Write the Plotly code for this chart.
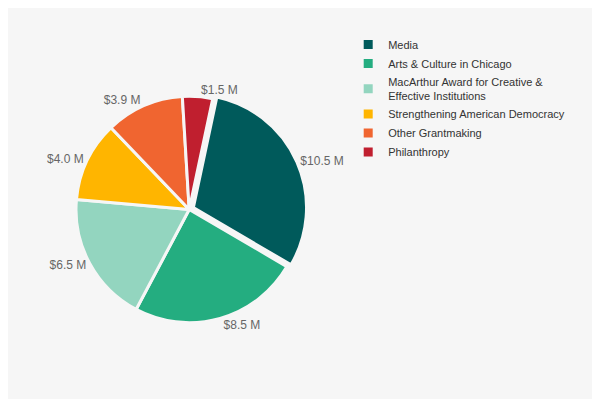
import plotly.graph_objects as go

categories = ["Media", "Arts & Culture in Chicago",
              "MacArthur Award for Creative &<br>Effective Institutions",
              "Strengthening American Democracy", "Other Grantmaking", "Philanthropy"]
values = [10.5, 8.5, 6.5, 4.0, 3.9, 1.5]
colors = ["#005a5b", "#24ad80", "#93d5bf", "#ffb500", "#f06530", "#c01f2f"]
labels_text = ["$%.1f M" % v for v in values]

fig = go.Figure(go.Pie(
    labels=categories, values=values, text=labels_text,
    textinfo="text", textposition="outside",
    sort=False, direction="clockwise", rotation=12,
    pull=[0.04, 0, 0, 0, 0, 0],
    marker=dict(colors=colors, line=dict(color="#f6f6f6", width=3)),
    outsidetextfont=dict(color="#666666", size=12, family="Arial, Liberation Sans, sans-serif"),
    domain=dict(x=[0.102, 0.502], y=[0.2, 0.79]),
    hoverinfo="label+text",
))
fig.update_layout(
    width=600, height=399,
    paper_bgcolor="#f6f6f6", plot_bgcolor="#f6f6f6",
    margin=dict(l=0, r=0, t=0, b=0, autoexpand=False),
    font=dict(family="Arial, Liberation Sans, sans-serif", size=11, color="#333333"),
    legend=dict(x=0.567, y=0.945, xanchor="left", yanchor="top",
                bgcolor="rgba(0,0,0,0)", font=dict(size=11, color="#333333"),
                tracegroupgap=0, itemwidth=30),
)
fig.write_html("out.html")
